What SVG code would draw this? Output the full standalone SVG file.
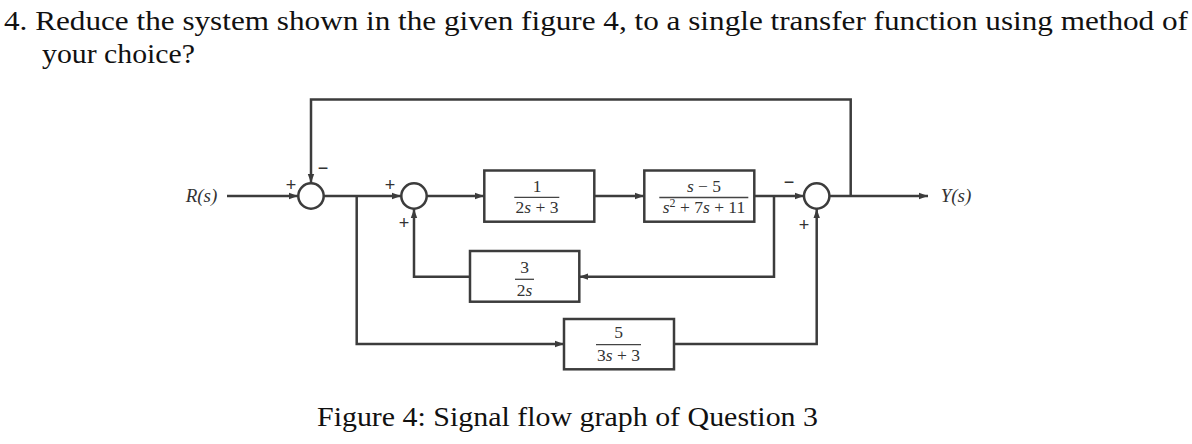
<svg xmlns="http://www.w3.org/2000/svg" width="1192" height="444" viewBox="0 0 1192 444">
<style>
.t{font-family:"Liberation Serif","Times New Roman",serif;fill:#111;font-size:28px}
.m{font-family:"Liberation Serif","DejaVu Serif",serif;fill:#333;font-size:17.5px;text-anchor:middle}
.L{font-size:19px}
.i{font-style:italic}
.sg{font-family:"Liberation Sans","DejaVu Sans",sans-serif;fill:#333;font-size:18px;text-anchor:middle}
.w{fill:none;stroke:#3c3c3c;stroke-width:2.5}
.b{fill:#fff;stroke:#3c3c3c;stroke-width:2.5}
.fl{stroke:#444;stroke-width:1.3}
</style>
<defs>
<marker id="ah" markerUnits="userSpaceOnUse" markerWidth="10" markerHeight="8" refX="9" refY="4" orient="auto">
<path d="M0,0.8 L9,4 L0,7.2 Z" fill="#3c3c3c"/>
</marker>
</defs>
<rect width="1192" height="444" fill="#fff"/>
<text class="t" x="4" y="30" textLength="1184" lengthAdjust="spacingAndGlyphs">4. Reduce the system shown in the given figure 4, to a single transfer function using method of</text>
<text class="t" x="42" y="63" textLength="153" lengthAdjust="spacingAndGlyphs">your choice?</text>
<text class="t" x="317" y="426" textLength="501" lengthAdjust="spacingAndGlyphs">Figure 4: Signal flow graph of Question 3</text>

<g id="connectors">
<path class="w" d="M227,196 H298" marker-end="url(#ah)"/>
<path class="w" d="M850.7,196 V99.5 H311 V183" marker-end="url(#ah)"/>
<path class="w" d="M324,196 H401" marker-end="url(#ah)"/>
<path class="w" d="M427,196 H484" marker-end="url(#ah)"/>
<path class="w" d="M594.3,196 H644" marker-end="url(#ah)"/>
<path class="w" d="M754.3,196 H804" marker-end="url(#ah)"/>
<path class="w" d="M829.7,196 H928" marker-end="url(#ah)"/>
<path class="w" d="M356.7,196 V344 H564" marker-end="url(#ah)"/>
<path class="w" d="M674,344 H816.7 V209" marker-end="url(#ah)"/>
<path class="w" d="M774,196 V276.7 H579.3" marker-end="url(#ah)"/>
<path class="w" d="M470,276.7 H414 V209" marker-end="url(#ah)"/>
</g>

<g id="R">
<text class="m i L" x="201.5" y="202">R(s)</text>
</g>
<g id="Y">
<text class="m i L" x="956" y="202">Y(s)</text>
</g>

<g id="sum1">
<circle class="b" cx="311" cy="196" r="12.7"/>
<text class="sg" x="291" y="191">+</text>
<text class="sg" x="323" y="174">−</text>
</g>
<g id="sum2">
<circle class="b" cx="414" cy="196" r="12.7"/>
<text class="sg" x="390" y="191">+</text>
<text class="sg" x="404" y="229">+</text>
</g>
<g id="sum3">
<circle class="b" cx="816.7" cy="196" r="12.7"/>
<text class="sg" x="789" y="188">−</text>
<text class="sg" x="804" y="231">+</text>
</g>

<g id="G1">
<rect class="b" x="484.3" y="170.5" width="110" height="51.2"/>
<text class="m" x="537" y="192">1</text>
<line class="fl" x1="514.3" y1="197.3" x2="559.3" y2="197.3"/>
<text class="m" x="537" y="213">2<tspan class="i">s</tspan> + 3</text>
</g>
<g id="G2">
<rect class="b" x="644.3" y="170.5" width="110" height="51.2"/>
<text class="m" x="704" y="192"><tspan class="i">s</tspan> − 5</text>
<line class="fl" x1="659.3" y1="197.5" x2="748.3" y2="197.5"/>
<text class="m" x="704" y="213"><tspan class="i">s</tspan><tspan font-size="12" dy="-6">2</tspan><tspan dy="6"> + 7</tspan><tspan class="i">s</tspan> + 11</text>
</g>
<g id="H1">
<rect class="b" x="470" y="251" width="109.3" height="50.7"/>
<text class="m" x="524.5" y="273">3</text>
<line class="fl" x1="515" y1="279.3" x2="534" y2="279.3"/>
<text class="m" x="524.5" y="296">2<tspan class="i">s</tspan></text>
</g>
<g id="G3">
<rect class="b" x="564" y="319" width="110" height="50.3"/>
<text class="m" x="618.5" y="338">5</text>
<line class="fl" x1="596" y1="344.7" x2="641" y2="344.7"/>
<text class="m" x="618.5" y="361">3<tspan class="i">s</tspan> + 3</text>
</g>
</svg>
